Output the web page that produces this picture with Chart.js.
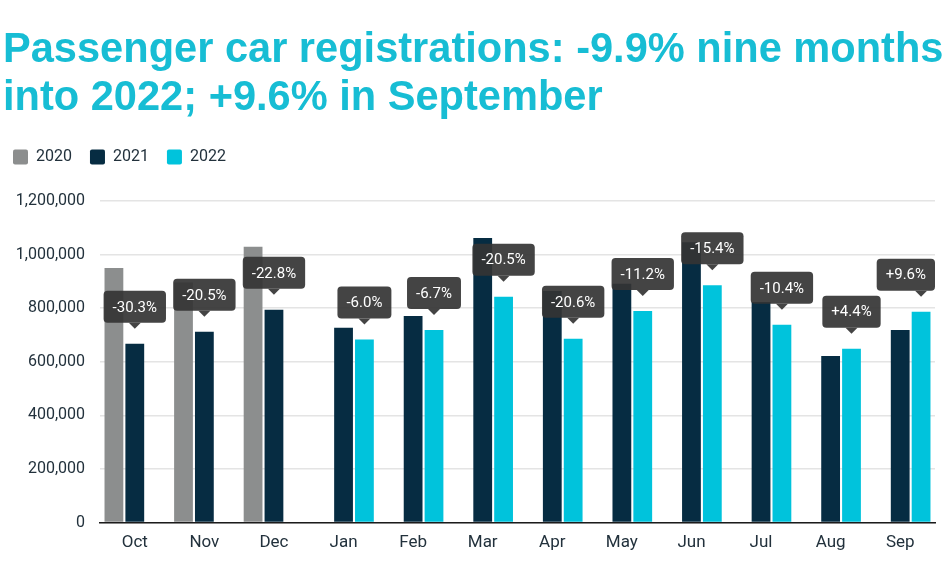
<!DOCTYPE html>
<html>
<head>
<meta charset="utf-8">
<script src="https://cdn.jsdelivr.net/npm/chart.js@4"></script>
<style>
  html, body { margin: 0; padding: 0; background: #fff; }
  #wrap { position: relative; width: 950px; height: 573px; overflow: hidden; }
  #title {
    position: absolute; left: 3px; top: 24px;
    font-family: "Liberation Sans", Arial, sans-serif;
    font-weight: bold; font-size: 42px; line-height: 48px;
    color: #17bdd4; white-space: nowrap;
    transform: scaleX(0.99); transform-origin: left top;
  }
</style>
</head>
<body>
<div id="wrap">
  <div id="title">Passenger car registrations: -9.9% nine months<br>into 2022; +9.6% in September</div>
  <canvas id="chart"></canvas>
</div>
<script>
document.addEventListener("DOMContentLoaded", function () {

  const months = ['Oct', 'Nov', 'Dec', 'Jan', 'Feb', 'Mar', 'Apr', 'May', 'Jun', 'Jul', 'Aug', 'Sep'];
  const reg2020 = [950000, 896000, 1029000, null, null, null, null, null, null, null, null, null];
  const reg2021 = [667000, 712000, 794000, 727000, 771000, 1062000, 864000, 891000, 1046000, 823000, 622000, 719000];
  const reg2022 = [null, null, null, 683000, 719000, 843000, 686000, 790000, 886000, 738000, 649000, 787000];
  const changes = ['-30.3%', '-20.5%', '-22.8%', '-6.0%', '-6.7%', '-20.5%', '-20.6%', '-11.2%', '-15.4%', '-10.4%', '+4.4%', '+9.6%'];
  const yTicks = [0, 200000, 400000, 600000, 800000, 1000000, 1200000];

  const textColor = '#22313c';

  // dark callouts over the latest bar of each month
  const callouts = {
    id: 'callouts',
    afterDatasetsDraw(chart) {
      const ctx = chart.ctx;
      const area = chart.chartArea;
      ctx.save();
      ctx.font = '15px Roboto, sans-serif';
      ctx.textAlign = 'center';
      ctx.textBaseline = 'middle';
      changes.forEach((txt, i) => {
        const dsIndex = reg2022[i] == null ? 1 : 2;
        const bar = chart.getDatasetMeta(dsIndex).data[i];
        const w = ctx.measureText(txt).width + 18;
        const h = 32;
        const tipY = bar.y - 15;
        const bottom = tipY - 6;
        let left = bar.x - w / 2;
        if (left + w > area.right) left = area.right - w;
        ctx.fillStyle = 'rgba(52,52,52,0.92)';
        ctx.beginPath();
        ctx.roundRect(left, bottom - h, w, h, 4);
        ctx.fill();
        ctx.beginPath();
        ctx.moveTo(bar.x - 6, bottom);
        ctx.lineTo(bar.x + 6, bottom);
        ctx.lineTo(bar.x, tipY);
        ctx.closePath();
        ctx.fill();
        ctx.fillStyle = '#ffffff';
        ctx.fillText(txt, left + w / 2, bottom - h / 2 + 1);
      });
      ctx.restore();
    }
  };

  // extra room under the legend
  const legendGap = {
    id: 'legendGap',
    beforeInit(chart) {
      const fit = chart.legend.fit;
      chart.legend.fit = function () {
        fit.bind(chart.legend)();
        this.height += 26;
      };
    }
  };

  new Chart(document.getElementById('chart'), {
    type: 'bar',
    data: {
      labels: months,
      datasets: [
        { label: '2020', data: reg2020, backgroundColor: '#8c8e8e' },
        { label: '2021', data: reg2021, backgroundColor: '#062c42' },
        { label: '2022', data: reg2022, backgroundColor: '#00c3dc' }
      ]
    },
    options: {
      responsive: true,
      maintainAspectRatio: false,
      animation: false,
      categoryPercentage: 0.9,
      barPercentage: 0.9,
      layout: { padding: { top: 131, left: -5, right: 15, bottom: 10 } },
      plugins: {
        title: { display: false },
        tooltip: { enabled: false },
        legend: {
          position: 'top',
          align: 'start',
          labels: {
            boxWidth: 15,
            boxHeight: 15,
            useBorderRadius: true,
            borderRadius: 2,
            padding: 18,
            color: textColor,
            font: { family: 'Roboto', size: 16 }
          }
        }
      },
      scales: {
        x: {
          grid: { display: false, drawTicks: false },
          border: { display: true, color: '#1b1b1b', width: 1.5 },
          ticks: { color: textColor, padding: 10, font: { family: 'Roboto', size: 17 } }
        },
        y: {
          min: 0,
          max: 1200000,
          afterFit(scale) { scale.width = 105; },
          afterBuildTicks(scale) { scale.ticks = yTicks.map(v => ({ value: v })); },
          grid: { color: '#e4e4e4', lineWidth: 1.5, drawTicks: false },
          border: { display: false },
          ticks: {
            color: textColor,
            padding: 15,
            font: { family: 'Roboto', size: 16 },
            callback: v => v.toLocaleString('en-US')
          }
        }
      }
    },
    plugins: [callouts, legendGap]
  });

});
</script>
</body>
</html>
